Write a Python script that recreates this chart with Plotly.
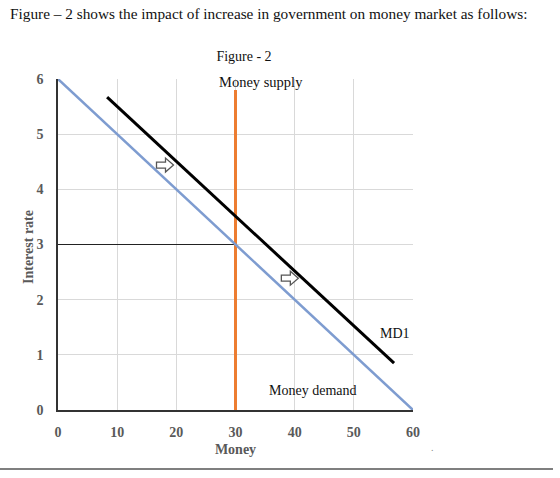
import plotly.graph_objects as go

# Data
md_x = [0, 60]
md_y = [6, 0]
md1_x = [8.3, 56.8]
md1_y = [5.67, 0.85]
ms_x = [30, 30]
ms_y = [0, 5.8]
eq_x = [0, 30]
eq_y = [3, 3]
arrow_x = [18.0, 39.1]
arrow_y = [4.44, 2.39]
x_ticks = [0, 10, 20, 30, 40, 50, 60]
y_ticks = [0, 1, 2, 3, 4, 5, 6]

SERIF = "Liberation Serif"
GRAY = "#595959"

# plot area in pixels: left 58, right 413, top 79, bottom 410
def px(x):
    return (x - 58) / 355

def py(y):
    return (410 - y) / 331

fig = go.Figure()
fig.add_trace(go.Scatter(x=eq_x, y=eq_y, mode="lines",
                         line=dict(color="#222222", width=1), hoverinfo="skip"))
fig.add_trace(go.Scatter(x=ms_x, y=ms_y, mode="lines",
                         line=dict(color="#ed7d31", width=3), hoverinfo="skip"))
fig.add_trace(go.Scatter(x=md_x, y=md_y, mode="lines",
                         line=dict(color="#7e9cd0", width=2.5), hoverinfo="skip"))
fig.add_trace(go.Scatter(x=md1_x, y=md1_y, mode="lines",
                         line=dict(color="#000000", width=3), hoverinfo="skip"))

arrow_path = "M -8,-3 L 1,-3 L 1,-7 L 9,0 L 1,7 L 1,3 L -8,3 Z"
shapes = []
for ax_, ay_ in zip(arrow_x, arrow_y):
    shapes.append(dict(type="path", xref="x", yref="y", xsizemode="pixel", ysizemode="pixel",
                       xanchor=ax_, yanchor=ay_, path=arrow_path,
                       fillcolor="white", line=dict(color="#555555", width=1.3)))
shapes.append(dict(type="line", xref="paper", yref="paper",
                   x0=px(0), x1=px(553), y0=py(469), y1=py(469),
                   line=dict(color="#555555", width=1.5)))

ann = [
    dict(x=34.3, y=5.94, xref="x", yref="y", text="Money supply", showarrow=False,
         font=dict(family=SERIF, size=14.5, color="#111111")),
    dict(x=57.0, y=1.39, xref="x", yref="y", text="MD1", showarrow=False,
         font=dict(family=SERIF, size=14, color="#111111")),
    dict(x=43.0, y=0.36, xref="x", yref="y", text="Money demand", showarrow=False,
         font=dict(family=SERIF, size=14, color="#111111")),
    dict(x=px(8), y=py(14), xref="paper", yref="paper", xanchor="left", yanchor="middle",
         text="Figure – 2 shows the impact of increase in government on money market as follows:",
         showarrow=False, font=dict(family=SERIF, size=15.3, color="#111111")),
    dict(x=px(436), y=py(455), xref="paper", yref="paper", text=".", showarrow=False,
         font=dict(family=SERIF, size=10, color="#888888")),
    dict(x=px(28), y=py(247), xref="paper", yref="paper", text="<b>Interest rate</b>",
         textangle=-90, showarrow=False, xanchor="center", yanchor="middle",
         font=dict(family=SERIF, size=14, color=GRAY)),
]

fig.update_layout(
    width=560, height=478,
    margin=dict(l=58, r=147, t=79, b=68),
    paper_bgcolor="white", plot_bgcolor="white",
    showlegend=False,
    title=dict(text="Figure - 2", x=244 / 560, xanchor="center", y=1 - 56 / 478, yanchor="middle",
               font=dict(family=SERIF, size=14, color="#111111")),
    annotations=ann,
    shapes=shapes,
    xaxis=dict(range=[0, 60], tickvals=x_ticks, ticktext=[str(v) for v in x_ticks],
               showgrid=True, gridcolor="#d9d9d9", gridwidth=1,
               showline=True, linecolor="#333333", linewidth=1.5, zeroline=False,
               ticks="", ticklabelstandoff=8,
               tickfont=dict(family=SERIF, size=14, color=GRAY, weight="bold"),
               title=dict(text="Money", standoff=6,
                          font=dict(family=SERIF, size=14, color=GRAY, weight="bold"))),
    yaxis=dict(range=[0, 6], tickvals=y_ticks, ticktext=[str(v) for v in y_ticks],
               showgrid=True, gridcolor="#d9d9d9", gridwidth=1,
               showline=True, linecolor="#333333", linewidth=1.5, zeroline=False,
               ticks="", ticklabelstandoff=10,
               tickfont=dict(family=SERIF, size=14, color=GRAY, weight="bold")),
)

fig.write_html("out.html")
